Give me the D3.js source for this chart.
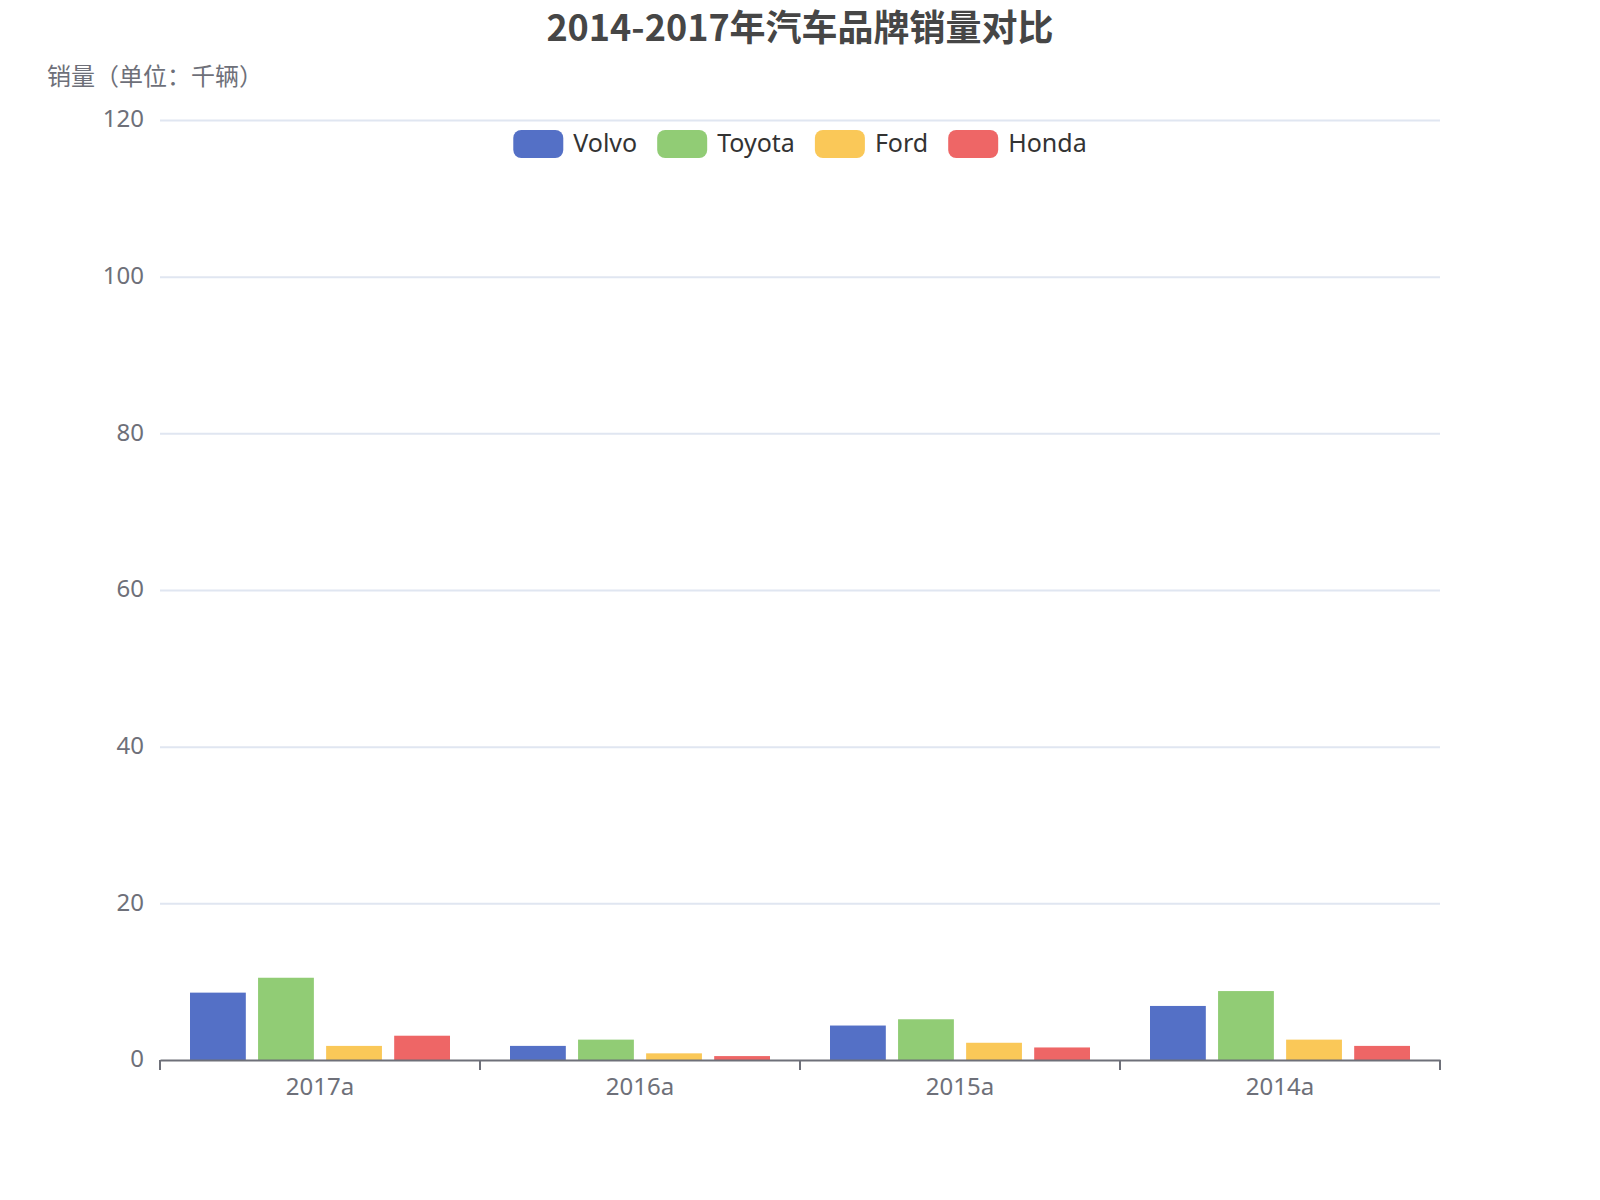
<!DOCTYPE html>
<html>
<head>
<meta charset="utf-8">
<script src="https://cdn.jsdelivr.net/npm/d3@7"></script>
<style>
  body { margin: 0; background: #fff; }
  svg { display: block; font-family: "Noto Sans CJK SC", "Noto Sans", sans-serif; }
</style>
</head>
<body>
<svg id="chart" width="1600" height="1200"></svg>
<script>
// chart data
const years = ["2017a", "2016a", "2015a", "2014a"];
const brands = ["Volvo", "Toyota", "Ford", "Honda"];
const volvo = [8.6, 1.8, 4.4, 6.9];
const toyota = [10.5, 2.6, 5.2, 8.8];
const ford = [1.8, 0.85, 2.2, 2.6];
const honda = [3.1, 0.5, 1.6, 1.8];
const yTicks = [0, 20, 40, 60, 80, 100, 120];
const colors = ["#5470c6", "#91cc75", "#fac858", "#ee6666"];

const series = [volvo, toyota, ford, honda];

const W = 1600, H = 1200;
const margin = { top: 120, right: 160, bottom: 140, left: 160 };
const svg = d3.select("#chart");

const x0 = d3.scaleBand()
  .domain(years)
  .range([margin.left, W - margin.right])
  .padding(0);

// bars within a year group
const x1 = d3.scaleBand()
  .domain(brands)
  .range([30, x0.bandwidth() - 30])
  .paddingInner(0.18);

const y = d3.scaleLinear()
  .domain([0, 120])
  .range([H - margin.bottom, margin.top]);

const color = d3.scaleOrdinal(brands, colors);

// gridlines + y labels
const yAxis = svg.append("g")
  .attr("transform", `translate(${margin.left},0)`)
  .call(d3.axisLeft(y).tickValues(yTicks).tickSize(-(W - margin.left - margin.right)).tickPadding(16));
yAxis.select(".domain").remove();
yAxis.selectAll(".tick line")
  .attr("stroke", "#E0E6F1")
  .attr("stroke-width", 2)
  .attr("stroke-opacity", d => d === 0 ? 0 : 1);
yAxis.selectAll(".tick text")
  .attr("fill", "#6E7079")
  .attr("font-size", 24)
  .attr("dy", "0.28em")
  .attr("font-family", "'Noto Sans', sans-serif");

// bars
const groups = svg.append("g")
  .selectAll("g")
  .data(years)
  .join("g")
  .attr("transform", d => `translate(${x0(d)},0)`);

groups.selectAll("rect")
  .data((d, i) => brands.map((b, j) => ({ brand: b, value: series[j][i] })))
  .join("rect")
  .attr("x", d => x1(d.brand))
  .attr("width", x1.bandwidth())
  .attr("y", d => y(d.value))
  .attr("height", d => y(0) - y(d.value))
  .attr("fill", d => color(d.brand));

// x axis
const xAxis = svg.append("g")
  .attr("transform", `translate(0,${H - margin.bottom})`)
  .call(d3.axisBottom(x0).tickSize(0).tickPadding(18));
xAxis.select(".domain")
  .attr("stroke", "#6E7079")
  .attr("stroke-width", 2);
xAxis.selectAll(".tick text")
  .attr("fill", "#6E7079")
  .attr("font-size", 24)
  .attr("font-family", "'Noto Sans', sans-serif");

// tick marks at category boundaries
const bounds = years.map(d => x0(d)).concat([W - margin.right]);
svg.append("g")
  .selectAll("line")
  .data(bounds)
  .join("line")
  .attr("x1", d => d)
  .attr("x2", d => d)
  .attr("y1", H - margin.bottom)
  .attr("y2", H - margin.bottom + 10)
  .attr("stroke", "#6E7079")
  .attr("stroke-width", 2);

// y axis name
svg.append("text")
  .attr("x", 155)
  .attr("y", 85)
  .attr("text-anchor", "middle")
  .attr("fill", "#6E7079")
  .attr("font-size", 24)
  .text("销量（单位：千辆）");

// title
svg.append("text")
  .attr("x", W / 2)
  .attr("y", 41)
  .attr("text-anchor", "middle")
  .attr("fill", "#464646")
  .attr("font-size", 36)
  .attr("font-weight", "bold")
  .text("2014-2017年汽车品牌销量对比");

// legend, centered
const legend = svg.append("g");
const items = legend.selectAll("g")
  .data(brands)
  .join("g");
items.append("rect")
  .attr("width", 50)
  .attr("height", 28)
  .attr("y", 130)
  .attr("rx", 8)
  .attr("fill", d => color(d));
items.append("text")
  .attr("x", 60)
  .attr("y", 143)
  .attr("dy", "0.35em")
  .attr("fill", "#333")
  .attr("font-size", 25)
  .attr("font-family", "'Noto Sans', sans-serif")
  .text(d => d);
let offset = 0;
items.each(function () {
  const w = this.getBBox().width;
  d3.select(this).attr("transform", `translate(${offset},0)`);
  offset += w + 20;
});
const total = offset - 20;
legend.attr("transform", `translate(${W / 2 - total / 2},0)`);
</script>
</body>
</html>
